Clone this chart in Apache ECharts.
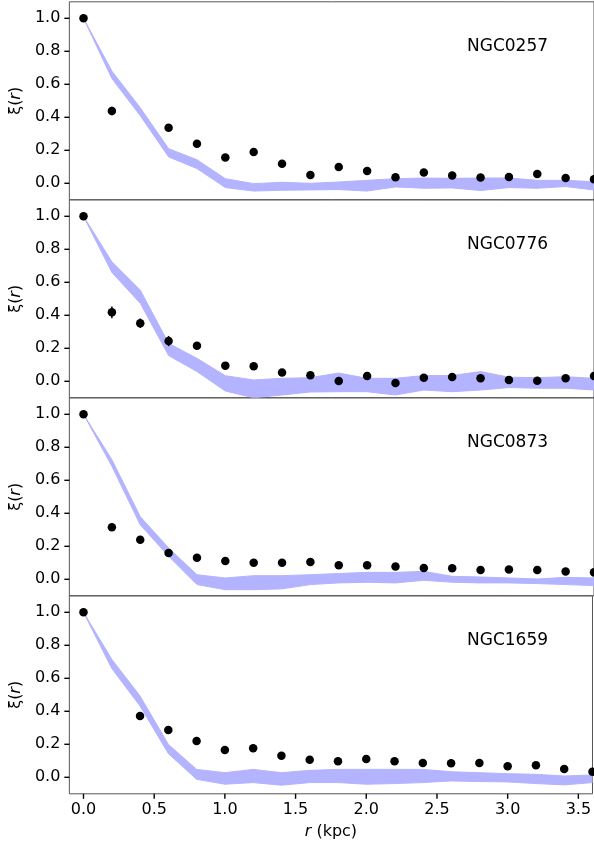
<!DOCTYPE html>
<html>
<head>
<meta charset="utf-8">
<script src="https://cdn.jsdelivr.net/npm/echarts@6/dist/echarts.min.js"></script>
<style>
  html, body { margin: 0; padding: 0; background: #fff; }
  #chart { width: 594px; height: 845px; }
</style>
</head>
<body>
<div id="chart"></div>
<script>
// Separation bins (kpc)
const rKpc = [0.0, 0.2, 0.4, 0.6, 0.8, 1.0, 1.2, 1.4, 1.6, 1.8, 2.0, 2.2, 2.4, 2.6, 2.8, 3.0, 3.2, 3.4, 3.6];

const galaxyNames = ['NGC0257', 'NGC0776', 'NGC0873', 'NGC1659'];

// Measured correlation function per galaxy (null = no measurement)
const xi0257 = [1.0, 0.438, null, 0.337, 0.240, 0.156, 0.190, 0.119, 0.050, 0.099, 0.075, 0.036, 0.065, 0.047, 0.035, 0.038, 0.056, 0.032, 0.024];
const err0257 = [0.005, 0.026, 0, 0.015, 0.012, 0.010, 0.010, 0.010, 0.010, 0.010, 0.010, 0.010, 0.010, 0.010, 0.010, 0.010, 0.010, 0.010, 0.010];
const xi0776 = [1.0, 0.418, 0.352, 0.244, 0.216, 0.095, 0.091, 0.053, 0.036, 0.002, 0.032, -0.010, 0.022, 0.026, 0.018, 0.008, 0.004, 0.018, 0.032];
const err0776 = [0.005, 0.036, 0.029, 0.031, 0.018, 0.012, 0.012, 0.012, 0.012, 0.012, 0.012, 0.012, 0.012, 0.012, 0.012, 0.012, 0.012, 0.012, 0.012];
const xi0873 = [1.0, 0.315, 0.240, 0.160, 0.131, 0.111, 0.101, 0.101, 0.105, 0.085, 0.085, 0.077, 0.069, 0.067, 0.057, 0.059, 0.057, 0.047, 0.042];
const err0873 = [0.005, 0.012, 0.015, 0.012, 0.010, 0.008, 0.008, 0.008, 0.008, 0.008, 0.008, 0.008, 0.008, 0.008, 0.008, 0.008, 0.008, 0.008, 0.008];
const xi1659 = [1.0, null, 0.372, 0.287, 0.220, 0.166, 0.176, 0.131, 0.107, 0.097, 0.111, 0.097, 0.087, 0.085, 0.087, 0.067, 0.073, 0.050, 0.034];
const err1659 = [0.005, 0, 0.015, 0.012, 0.010, 0.010, 0.010, 0.010, 0.010, 0.010, 0.010, 0.010, 0.010, 0.010, 0.010, 0.010, 0.010, 0.010, 0.010];

// Model envelopes (lower / upper)
const lo0257 = [1.0, 0.635, 0.410, 0.160, 0.089, -0.026, -0.047, -0.042, -0.040, -0.038, -0.047, -0.022, -0.030, -0.028, -0.044, -0.026, -0.030, -0.020, -0.040];
const hi0257 = [1.0, 0.680, 0.458, 0.210, 0.143, 0.028, -0.002, 0.006, 0.000, 0.008, 0.018, 0.028, 0.032, 0.030, 0.032, 0.032, 0.018, 0.018, 0.010];
const lo0776 = [1.0, 0.660, 0.473, 0.156, 0.059, -0.059, -0.100, -0.083, -0.065, -0.063, -0.063, -0.083, -0.053, -0.063, -0.053, -0.038, -0.042, -0.042, -0.053];
const hi0776 = [1.0, 0.725, 0.553, 0.230, 0.139, 0.034, 0.008, 0.018, 0.022, 0.050, 0.018, 0.018, 0.035, 0.035, 0.059, 0.025, 0.022, 0.028, 0.018];
const lo0873 = [1.0, 0.685, 0.330, 0.140, -0.032, -0.063, -0.063, -0.058, -0.032, -0.022, -0.018, -0.022, -0.006, -0.018, -0.022, -0.022, -0.026, -0.032, -0.038];
const hi0873 = [1.0, 0.725, 0.380, 0.190, 0.028, 0.008, 0.022, 0.022, 0.028, 0.035, 0.042, 0.042, 0.048, 0.018, 0.014, 0.008, 0.002, 0.012, 0.008];
const lo1659 = [1.0, 0.660, 0.432, 0.144, -0.012, -0.042, -0.032, -0.048, -0.032, -0.032, -0.042, -0.038, -0.032, -0.022, -0.026, -0.028, -0.038, -0.046, -0.032];
const hi1659 = [1.0, 0.715, 0.493, 0.200, 0.048, 0.028, 0.048, 0.028, 0.042, 0.048, 0.048, 0.048, 0.048, 0.034, 0.028, 0.022, 0.018, 0.008, 0.014];

// Tick labels
const xTicks = [0.0, 0.5, 1.0, 1.5, 2.0, 2.5, 3.0, 3.5];
const yTicks = [0.0, 0.2, 0.4, 0.6, 0.8, 1.0];

const panels = [
  { name: galaxyNames[0], xi: xi0257, err: err0257, lo: lo0257, hi: hi0257 },
  { name: galaxyNames[1], xi: xi0776, err: err0776, lo: lo0776, hi: hi0776 },
  { name: galaxyNames[2], xi: xi0873, err: err0873, lo: lo0873, hi: hi0873 },
  { name: galaxyNames[3], xi: xi1659, err: err1659, lo: lo1659, hi: hi1659 }
];

const FONT = 'DejaVu Sans';
const BAND = '#b3b3ff';
const SPINE = '#555';
const TICK_LEN = 5;
const X_MIN = -0.1, X_MAX = 3.6, Y_MIN = -0.1, Y_MAX = 1.1;
const GRID_LEFT = 66.5;
const GRID_WIDTH = 527.8;
const GRID_HEIGHT = 198;
const GRID_TOPS = [1.8, 199.8, 397.8, 595.8];

const chart = echarts.init(document.getElementById('chart'), null, { renderer: 'canvas' });

const grid = [], xAxis = [], yAxis = [], series = [], graphic = [];

const richItalic = { i: { fontFamily: FONT, fontSize: 16, fontStyle: 'italic', color: '#000' } };

panels.forEach((p, k) => {
  const last = k === panels.length - 1;
  grid.push({
    left: GRID_LEFT, width: GRID_WIDTH, top: GRID_TOPS[k], height: GRID_HEIGHT,
    show: true, borderColor: SPINE, borderWidth: 1, backgroundColor: 'transparent'
  });
  xAxis.push({
    type: 'value', gridIndex: k, min: X_MIN, max: X_MAX, position: 'bottom',
    axisLine: { show: false, onZero: false },
    splitLine: { show: false },
    axisTick: { show: false },
    axisLabel: {
      show: last, customValues: xTicks, margin: 8,
      fontFamily: FONT, fontSize: 16, color: '#000',
      formatter: v => v.toFixed(1)
    },
    name: last ? '{i|r} (kpc)' : '',
    nameLocation: 'middle', nameGap: 30,
    nameTextStyle: { fontFamily: FONT, fontSize: 16, color: '#000', rich: richItalic }
  });
  yAxis.push({
    type: 'value', gridIndex: k, min: Y_MIN, max: Y_MAX, position: 'left',
    axisLine: { show: false, onZero: false },
    splitLine: { show: false },
    axisTick: { show: false },
    axisLabel: {
      customValues: yTicks, margin: 9,
      fontFamily: FONT, fontSize: 16, color: '#000',
      formatter: v => v.toFixed(1)
    },
    name: 'ξ({i|r})',
    nameLocation: 'middle', nameRotate: 90, nameGap: 42,
    nameTextStyle: { fontFamily: FONT, fontSize: 16, color: '#000', rich: richItalic }
  });

  // Model envelope as a filled polygon between lower and upper curves
  series.push({
    type: 'custom', xAxisIndex: k, yAxisIndex: k, z: 1, silent: true,
    data: rKpc.map((r, i) => [r, p.lo[i], p.hi[i]]),
    encode: { x: 0, y: [1, 2] },
    renderItem: (params, api) => {
      if (params.dataIndex !== 0) return null;
      const upper = rKpc.map((r, i) => api.coord([r, p.hi[i]]));
      const lower = rKpc.map((r, i) => api.coord([r, p.lo[i]])).reverse();
      const cs = params.coordSys;
      return {
        type: 'group',
        clipPath: { type: 'rect', shape: { x: cs.x, y: cs.y, width: cs.width, height: cs.height } },
        children: [{
          type: 'polygon',
          shape: { points: upper.concat(lower) },
          style: { fill: BAND, stroke: BAND, lineWidth: 1 }
        }]
      };
    }
  });

  // Error bars
  const errData = [];
  rKpc.forEach((r, i) => {
    if (p.xi[i] !== null) errData.push([r, p.xi[i] - p.err[i], p.xi[i] + p.err[i]]);
  });
  series.push({
    type: 'custom', xAxisIndex: k, yAxisIndex: k, z: 2, silent: true,
    data: errData,
    encode: { x: 0, y: [1, 2] },
    renderItem: (params, api) => {
      const a = api.coord([api.value(0), api.value(1)]);
      const b = api.coord([api.value(0), api.value(2)]);
      return {
        type: 'line',
        shape: { x1: a[0], y1: a[1], x2: b[0], y2: b[1] },
        style: { stroke: '#000', lineWidth: 1.5 }
      };
    }
  });

  // Measured points
  const pts = [];
  rKpc.forEach((r, i) => { if (p.xi[i] !== null) pts.push([r, p.xi[i]]); });
  series.push({
    type: 'scatter', xAxisIndex: k, yAxisIndex: k, z: 3, silent: true,
    data: pts, symbol: 'circle', symbolSize: 8.5,
    itemStyle: { color: '#000', opacity: 1 },
    clip: false
  });

  graphic.push({
    type: 'text', x: 467, y: GRID_TOPS[k] + 44.5, z: 10,
    style: {
      text: p.name, fontFamily: FONT, fontSize: 17, fill: '#000',
      textAlign: 'left', textVerticalAlign: 'middle'
    }
  });
});

chart.setOption({
  animation: false,
  backgroundColor: '#fff',
  grid, xAxis, yAxis, series, graphic
});

// Outward tick marks, positioned by each panel's axis scales
function addTicks() {
  const zr = chart.getZr();
  panels.forEach((p, k) => {
    yTicks.forEach(v => {
      const c = chart.convertToPixel({ xAxisIndex: k, yAxisIndex: k }, [X_MIN, v]);
      if (!c) return;
      zr.add(new echarts.graphic.Line({
        z: 100, zlevel: 1, silent: true,
        shape: { x1: c[0] - TICK_LEN, y1: c[1], x2: c[0], y2: c[1] },
        style: { stroke: '#000', lineWidth: 1.4 }
      }));
    });
    if (k === panels.length - 1) {
      xTicks.forEach(v => {
        const c = chart.convertToPixel({ xAxisIndex: k, yAxisIndex: k }, [v, Y_MIN]);
        if (!c) return;
        zr.add(new echarts.graphic.Line({
          z: 100, zlevel: 1, silent: true,
          shape: { x1: c[0], y1: c[1], x2: c[0], y2: c[1] + TICK_LEN },
          style: { stroke: '#000', lineWidth: 1.4 }
        }));
      });
    }
  });
  zr.refreshImmediately();
}
addTicks();
</script>
</body>
</html>
